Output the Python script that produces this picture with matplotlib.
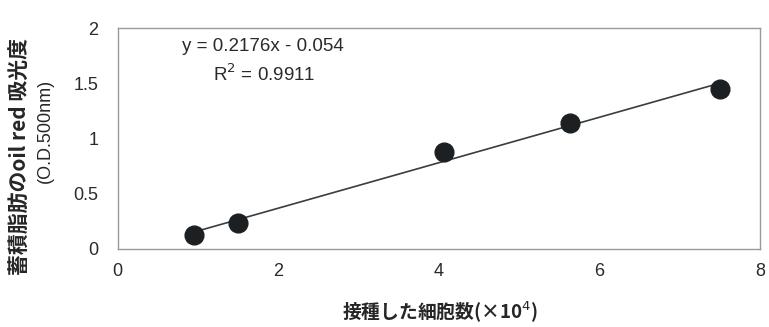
import numpy as np
import matplotlib
matplotlib.use("Agg")
import matplotlib.pyplot as plt

plt.rcParams['font.family'] = ['Liberation Sans', 'Noto Sans CJK JP', 'DejaVu Sans']

# Seeded cell count (x10^4) vs. oil red absorbance
cells = [0.95, 1.5, 4.07, 5.63, 7.5]
absorbance = [0.127, 0.236, 0.88, 1.14, 1.445]

eq_text = "y = 0.2176x - 0.054"
r2_text = "R$^2$ = 0.9911"
x_ticks = [0, 2, 4, 6, 8]
y_ticks = [0, 0.5, 1, 1.5, 2]
y_tick_labels = ["0", "0.5", "1", "1.5", "2"]

fig = plt.figure(figsize=(7.69, 3.27), dpi=100)
ax = fig.add_axes([0.153, 0.239, 0.835, 0.675])

# linear trendline over the measured range
coef = np.polyfit(cells, absorbance, 1)
xs = np.array([min(cells), max(cells)])
ax.plot(xs, np.polyval(coef, xs), color='#3a3d3d', lw=1.2, zorder=2)
ax.plot(cells, absorbance, 'o', ms=13.5, color='#1c2022', zorder=3)

ax.set_xlim(0, 8)
ax.set_ylim(0, 2)
ax.set_xticks(x_ticks)
ax.set_yticks(y_ticks)
ax.set_yticklabels(y_tick_labels)
ax.tick_params(axis='both', length=0, labelsize=13, colors='#2a2a2a')
ax.tick_params(axis='y', pad=14)
ax.tick_params(axis='x', pad=10)
for s in ax.spines.values():
    s.set_color('#9a9a9a')
    s.set_linewidth(1.0)

ax.text(0.226, 0.915, eq_text, transform=ax.transAxes, ha='center', va='center',
        fontsize=13.5, color='#2a2a2a')
ax.text(0.229, 0.79, r2_text, transform=ax.transAxes, ha='center', va='center',
        fontsize=13.5, color='#2a2a2a')

fig.text(0.027, 0.52, "蓄積脂肪のoil red 吸光度", rotation=90, ha='center', va='center',
         fontsize=15, fontweight='bold', color='#262626',
         family=['Noto Sans CJK JP', 'DejaVu Sans'])
fig.text(0.059, 0.6, "(O.D.500nm)", rotation=90, ha='center', va='center',
         fontsize=13, color='#262626')
fig.text(0.572, 0.045, "接種した細胞数(×10$^4$)", ha='center', va='center',
         fontsize=13.5, fontweight='bold', color='#262626',
         family=['Noto Sans CJK JP', 'DejaVu Sans'])

fig.savefig("out.png", dpi=100, facecolor='white')
